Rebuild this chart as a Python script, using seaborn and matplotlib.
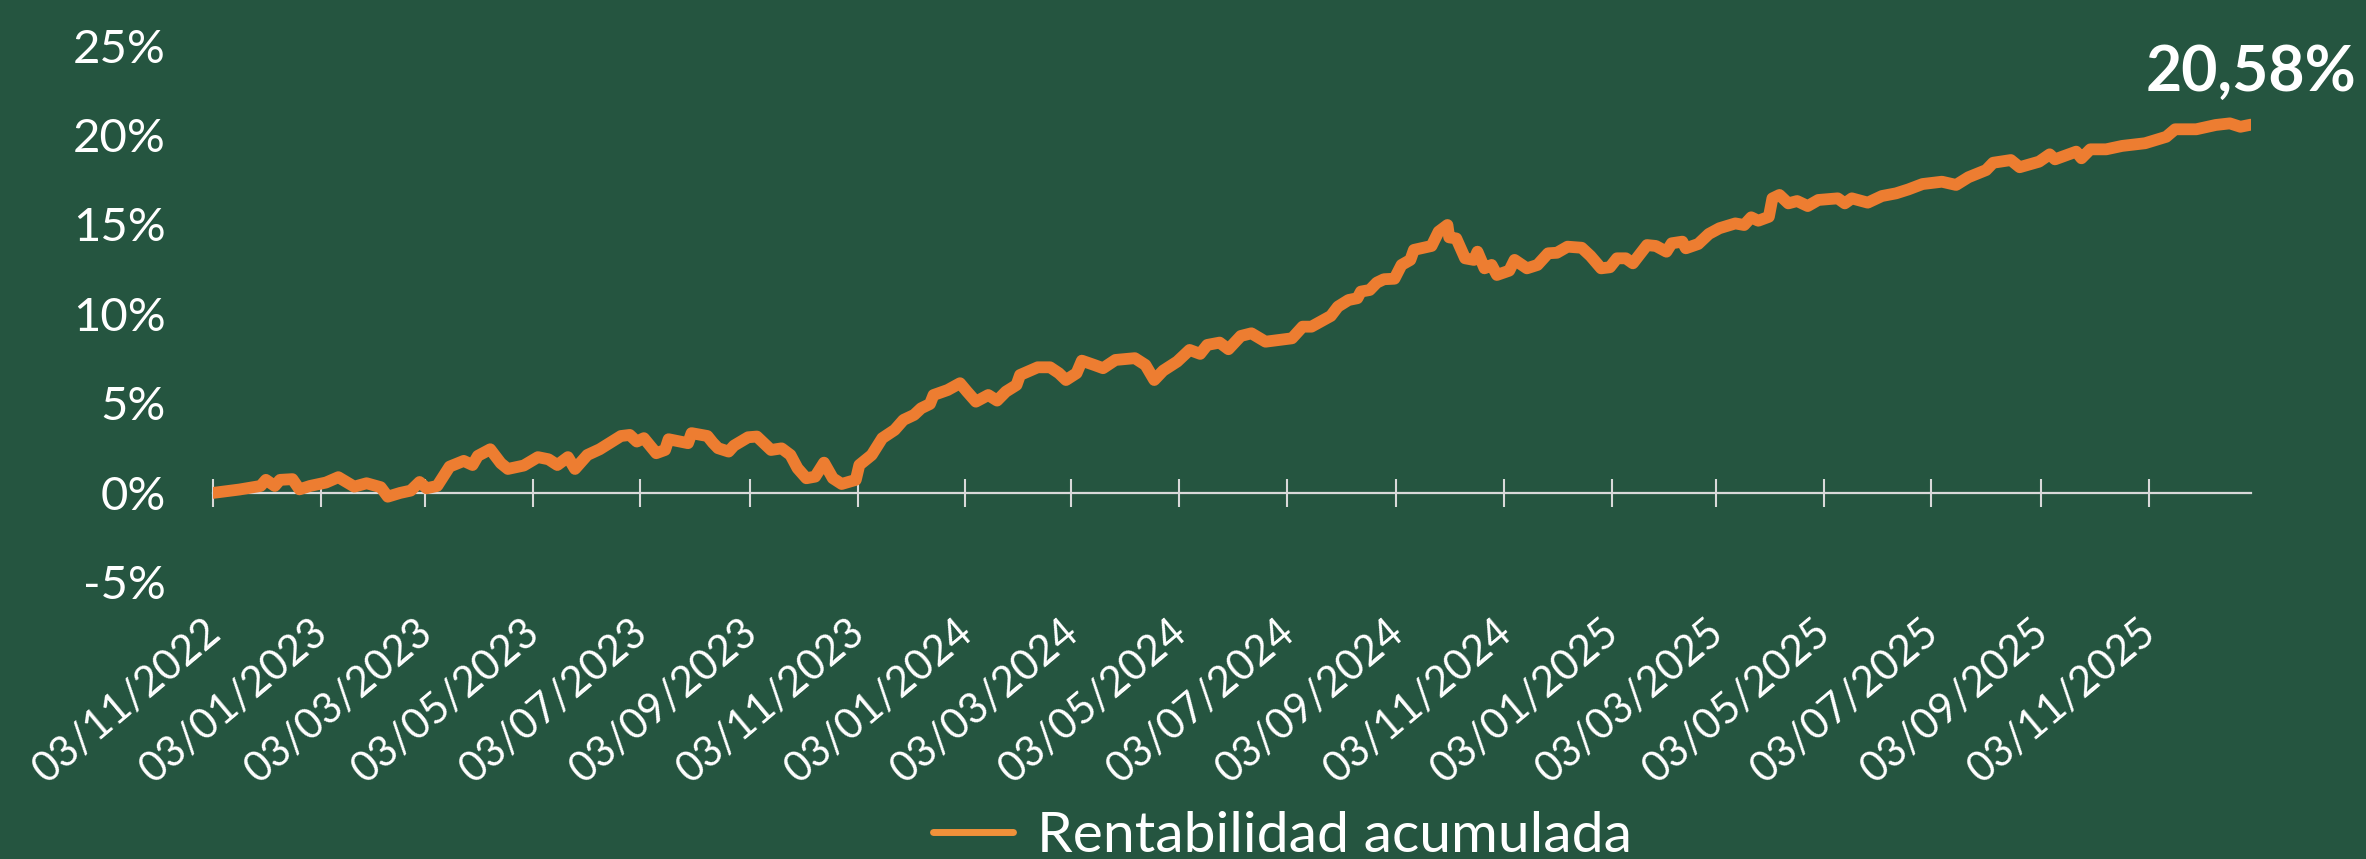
import pandas as pd
import matplotlib.pyplot as plt
import seaborn as sns
from matplotlib.lines import Line2D
from matplotlib.transforms import ScaledTranslation

# data: days since 03/11/2022 and cumulative return (%)
start = pd.Timestamp('2022-11-03')
days = [0, 15, 27, 30, 35, 38, 45, 49, 55, 64, 71, 80, 87, 95, 99, 106, 112, 117, 121, 127,
        134, 142, 147, 150, 157, 163, 167, 176, 184, 190, 195, 201, 205, 212, 219, 231, 236, 240, 244, 251,
        256, 258, 269, 271, 280, 283, 286, 292, 295, 303, 308, 316, 322, 327, 331, 336, 341, 346, 351, 356,
        364, 366, 373, 379, 386, 391, 397, 401, 406, 408, 416, 423, 427, 432, 439, 444, 449, 455, 457, 467,
        474, 479, 483, 489, 492, 499, 504, 511, 522, 528, 533, 538, 546, 553, 559, 563, 570, 575, 582, 588,
        596, 611, 617, 622, 633, 637, 643, 648, 650, 655, 659, 663, 669, 673, 678, 680, 690, 694, 699, 700,
        704, 709, 714, 716, 720, 724, 727, 734, 737, 744, 750, 756, 761, 767, 775, 780, 786, 791, 795, 800,
        804, 812, 817, 823, 826, 832, 834, 841, 847, 853, 862, 867, 871, 875, 881, 883, 887, 892, 897, 903,
        909, 920, 924, 928, 937, 945, 953, 960, 968, 979, 987, 994, 1004, 1008, 1018, 1023, 1034, 1040, 1043, 1055,
        1058, 1063, 1072, 1081, 1094, 1106, 1111, 1123, 1134, 1142, 1148, 1154]
rent = [0.00, 0.19, 0.39, 0.73, 0.39, 0.73, 0.77, 0.20, 0.39, 0.58, 0.88, 0.35, 0.54, 0.32, -0.21, 0.00, 0.13, 0.61, 0.26, 0.39,
        1.47, 1.79, 1.56, 2.07, 2.44, 1.66, 1.34, 1.53, 2.00, 1.88, 1.56, 2.00, 1.34, 2.12, 2.44, 3.18, 3.24, 2.87, 3.06, 2.22,
        2.40, 3.00, 2.78, 3.34, 3.18, 2.81, 2.50, 2.31, 2.64, 3.11, 3.15, 2.40, 2.49, 2.12, 1.38, 0.82, 0.91, 1.69, 0.82, 0.50,
        0.73, 1.56, 2.12, 3.06, 3.52, 4.08, 4.36, 4.73, 4.97, 5.47, 5.75, 6.13, 5.66, 5.10, 5.47, 5.16, 5.66, 6.03, 6.59, 7.02,
        7.02, 6.69, 6.31, 6.69, 7.39, 7.15, 6.97, 7.43, 7.53, 7.15, 6.31, 6.83, 7.34, 7.99, 7.77, 8.27, 8.40, 8.03, 8.77, 8.92,
        8.45, 8.64, 9.29, 9.29, 9.89, 10.41, 10.78, 10.88, 11.25, 11.34, 11.75, 11.94, 11.97, 12.74, 13.02, 13.58, 13.80, 14.60, 14.97, 14.28,
        14.22, 13.11, 13.02, 13.48, 12.55, 12.74, 12.18, 12.42, 13.02, 12.55, 12.74, 13.39, 13.42, 13.76, 13.70, 13.24, 12.55, 12.61, 13.11, 13.11,
        12.83, 13.85, 13.80, 13.48, 13.95, 14.04, 13.67, 13.91, 14.47, 14.79, 15.06, 14.97, 15.40, 15.21, 15.43, 16.46, 16.65, 16.18, 16.31, 16.03,
        16.37, 16.46, 16.18, 16.46, 16.22, 16.59, 16.74, 16.96, 17.26, 17.39, 17.21, 17.64, 18.04, 18.45, 18.60, 18.20, 18.51, 18.92, 18.64, 19.07,
        18.70, 19.20, 19.20, 19.39, 19.54, 19.90, 20.32, 20.32, 20.56, 20.65, 20.46, 20.58]
tick_labels = ['03/11/2022', '03/01/2023', '03/03/2023', '03/05/2023', '03/07/2023', '03/09/2023',
               '03/11/2023', '03/01/2024', '03/03/2024', '03/05/2024', '03/07/2024', '03/09/2024',
               '03/11/2024', '03/01/2025', '03/03/2025', '03/05/2025', '03/07/2025', '03/09/2025',
               '03/11/2025']
y_ticks = [-5, 0, 5, 10, 15, 20, 25]
serie = 'Rentabilidad acumulada'

df = pd.DataFrame({'fecha': start + pd.to_timedelta(days, unit='D'), 'rent': rent})

bg = '#255540'
orange = '#ED7D31'
grey = '#D9D9D9'

sns.set_theme(style='white')
plt.rcParams['font.family'] = ['Lato', 'DejaVu Sans']

fig = plt.figure(figsize=(23.66, 8.59), dpi=100, facecolor=bg)
ax = fig.add_axes([0.09, 0.322, 0.8614, 0.625])
ax.set_facecolor(bg)

sns.lineplot(data=df, x='fecha', y='rent', ax=ax, color=orange, linewidth=8.5,
             solid_joinstyle='round', solid_capstyle='round', legend=False)

ax.set_xlim(df['fecha'].iloc[0], df['fecha'].iloc[-1])
ax.set_ylim(-5, 25)
ax.set_xlabel('')
ax.set_ylabel('')

# x axis line at 0%, labels at the bottom
for s in ['left', 'right', 'bottom']:
    ax.spines[s].set_visible(False)
ax.spines['top'].set_position(('data', 0))
ax.spines['top'].set_color(grey)
ax.spines['top'].set_linewidth(1.6)
ax.spines['top'].set_zorder(1)

ax.set_xticks(pd.to_datetime(tick_labels, dayfirst=True))
ax.set_xticklabels(tick_labels, rotation=40, ha='right', va='center',
                   rotation_mode='anchor')
ax.tick_params(axis='x', bottom=False, top=True, labelbottom=True, labeltop=False,
               direction='inout', length=20, width=1.5, color=grey,
               labelsize=30, labelcolor='white', pad=22)
shift = ScaledTranslation(2 / 100, 0, fig.dpi_scale_trans)
for lab in ax.get_xticklabels():
    lab.set_transform(lab.get_transform() + shift)

ax.set_yticks(y_ticks)
ax.set_yticklabels([f'{v}%' for v in y_ticks])
ax.tick_params(axis='y', left=False, length=0, labelsize=34, labelcolor='white', pad=34)

# final value label
last = df.iloc[-1]
ax.annotate(f"{last['rent']:.2f}%".replace('.', ','), xy=(last['fecha'], last['rent']),
            xytext=(0, 37), textcoords='offset points', ha='center', va='center',
            fontsize=45, fontweight='bold', color='white', annotation_clip=False)

handle = Line2D([0], [0], color='#F0913A', lw=5, solid_capstyle='round')
fig.legend([handle], [serie], loc='center', bbox_to_anchor=(0.542, 0.026), frameon=False,
           labelcolor='white', handlelength=1.4, handletextpad=0.42,
           prop={'size': 41})

fig.savefig('out.png', dpi=100, facecolor=bg)
